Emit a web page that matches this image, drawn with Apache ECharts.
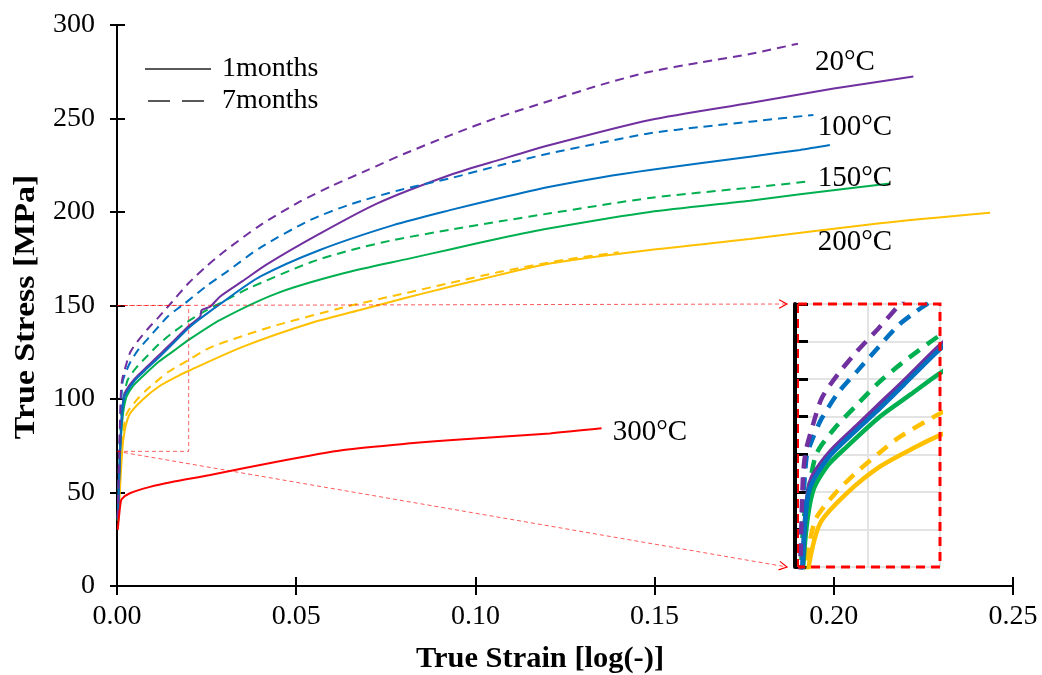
<!DOCTYPE html>
<html>
<head>
<meta charset="utf-8">
<script src="https://cdn.jsdelivr.net/npm/echarts@6/dist/echarts.min.js"></script>
<style>
html,body{margin:0;padding:0;background:#fff;}
#chart{width:1042px;height:675px;}
</style>
</head>
<body>
<div id="chart"></div>
<script>
// ---------- data (strain [-], true stress [MPa]) ----------
const xTicks = [0, 0.05, 0.10, 0.15, 0.20, 0.25];
const yTicks = [0, 50, 100, 150, 200, 250, 300];
const legendLabels = ['1months', '7months'];
const tempLabels = ['20°C', '100°C', '150°C', '200°C', '300°C'];
const tempLabelPos = [[0.2031, 280], [0.2059, 245], [0.2059, 218], [0.2059, 184], [0.1487, 82.4]];

const t20_1m = [[0.0003,38],[0.0008,68],[0.0013,90],[0.0018,100],[0.0025,104.5],[0.005,111],[0.0085,117.5],[0.0113,122.7],[0.015,129.5],[0.02,139],[0.0232,144],[0.0236,147.5],[0.026,149.4],[0.0287,154.7],[0.035,163],[0.0418,172],[0.0557,187.5],[0.0725,204.5],[0.0929,219.8],[0.1069,228],[0.1208,235.8],[0.1487,249.2],[0.1766,258.3],[0.2,266],[0.2222,272.4]];
const t20_7m = [[0.0002,36],[0.0005,62],[0.0008,85],[0.0011,104],[0.0015,111],[0.0025,118],[0.0037,125],[0.006,131.5],[0.0085,137.3],[0.0115,143.5],[0.0145,150],[0.02,162],[0.025,171],[0.03,179],[0.04,193],[0.051,205.5],[0.06,214],[0.07,222.5],[0.08,231],[0.0929,241],[0.1069,251],[0.1208,259.5],[0.135,268],[0.1487,275],[0.163,280],[0.1766,284.5],[0.19,290]];
const t100_1m = [[0.0003,38],[0.0008,70],[0.0013,90],[0.0018,99],[0.0025,103],[0.005,110],[0.0085,116.5],[0.0113,121.5],[0.015,128.5],[0.02,138],[0.0232,143],[0.03,152.5],[0.0399,165.4],[0.0566,179.7],[0.0771,193],[0.0929,201],[0.1069,207.5],[0.1208,213.5],[0.135,218.5],[0.1487,222.5],[0.1766,229.6],[0.1906,233.2],[0.1989,235.8]];
const t100_7m = [[0.0002,36],[0.0006,68],[0.001,92],[0.0016,109.4],[0.0025,114.5],[0.0037,119.6],[0.006,126.5],[0.0087,132.4],[0.0115,138.5],[0.0143,144.4],[0.0167,148],[0.0186,150.6],[0.025,160.5],[0.0306,168],[0.04,181],[0.0539,195.7],[0.065,204],[0.079,211.8],[0.0929,218],[0.1069,225],[0.1208,231.4],[0.135,237],[0.1487,242.1],[0.163,245.5],[0.1766,248.3],[0.1943,251.9]];
const t150_1m = [[0.0003,38],[0.0008,68],[0.0015,89],[0.00253,100.5],[0.0045,107],[0.00713,112],[0.0117,120],[0.016,126],[0.02,131.6],[0.0287,142.2],[0.0446,156.5],[0.0632,167.2],[0.0818,175.2],[0.0929,180],[0.1069,186],[0.1208,191.3],[0.1487,200],[0.1766,206],[0.1906,209.5],[0.2157,215.3]];
const t150_7m = [[0.0002,35],[0.0007,70],[0.00115,91.6],[0.002,102],[0.003,110.3],[0.0055,117],[0.0085,123.1],[0.0115,129],[0.0147,134.2],[0.02,141.7],[0.025,147.5],[0.03,152.5],[0.0371,159.5],[0.0539,173],[0.065,179.5],[0.0771,185],[0.0929,190.5],[0.1069,195],[0.1208,199.3],[0.1487,207.5],[0.1766,213],[0.1924,216.2]];
const t200_1m = [[0.0004,35],[0.001,58],[0.0018,79],[0.00345,91.6],[0.00713,99.6],[0.0117,106.7],[0.0167,112],[0.02,115.1],[0.0352,128],[0.0539,140.5],[0.0678,147.6],[0.0804,154],[0.0929,160],[0.1069,166.5],[0.1208,172.5],[0.1487,179.7],[0.1766,185.5],[0.2129,194],[0.2436,199.6]];
const t200_7m = [[0.0003,35],[0.001,66],[0.0016,81],[0.0028,92.5],[0.0055,99.5],[0.0083,104.9],[0.0117,110.5],[0.0145,114.7],[0.02,120.9],[0.026,127.5],[0.0371,135],[0.0446,139.5],[0.0632,149],[0.0779,155.5],[0.0929,162],[0.1069,168],[0.125,174.5],[0.14,178.5]];
const t300_1m = [[0.0002,30],[0.0005,36],[0.0009,43],[0.0013,46.5],[0.0036,49.6],[0.0092,53],[0.015,55.5],[0.026,59.4],[0.0446,66.5],[0.0632,72.7],[0.0818,76.3],[0.0957,78.4],[0.1208,81.6],[0.1352,84.3]];

// zoom window shown in the inset
const zoomX = [0, 0.02];
const zoomY = [80, 150];
const zoomBoxY = [72, 150];

const PURPLE = '#7030A0', BLUE = '#0070C0', GREEN = '#00B050', YELLOW = '#FFC000', RED = '#FF0000';
const FONT = '"Liberation Serif","Times New Roman",serif';

const curves = [
  {d: t200_7m, c: YELLOW, dash: true},
  {d: t200_1m, c: YELLOW, dash: false},
  {d: t150_7m, c: GREEN, dash: true},
  {d: t150_1m, c: GREEN, dash: false},
  {d: t20_1m, c: PURPLE, dash: false},
  {d: t100_1m, c: BLUE, dash: false},
  {d: t100_7m, c: BLUE, dash: true},
  {d: t20_7m, c: PURPLE, dash: true},
  {d: t300_1m, c: RED, dash: false, noInset: true}
];

const series = [];
curves.forEach(cv => {
  series.push({type: 'line', data: cv.d, xAxisIndex: 0, yAxisIndex: 0, symbol: 'none', silent: true,
    smooth: 0.25,
    lineStyle: {color: cv.c, width: 2, type: cv.dash ? [9, 6] : 'solid'}, z: 3});
});
curves.forEach(cv => {
  if (cv.noInset) return;
  series.push({type: 'line', data: cv.d, xAxisIndex: 3, yAxisIndex: 3, symbol: 'none', silent: true, clip: true,
    smooth: 0.25,
    lineStyle: {color: cv.c, width: 4.5, type: cv.dash ? [13, 9] : 'solid'}, z: 5});
});
// zoom rectangle on the main chart
series.push({type: 'line', xAxisIndex: 0, yAxisIndex: 0, symbol: 'none', silent: true, z: 4,
  data: [[zoomX[0], zoomBoxY[0]], [zoomX[1], zoomBoxY[0]], [zoomX[1], zoomBoxY[1]], [zoomX[0], zoomBoxY[1]]],
  lineStyle: {color: 'rgba(255,0,0,0.6)', width: 1, type: [4, 3]}});

const axisLbl = {fontFamily: FONT, fontSize: 28, color: '#000'};
const blackLine = {show: true, lineStyle: {color: '#000', width: 2}};

const option = {
  animation: false,
  backgroundColor: '#fff',
  grid: [
    {left: 117, right: 29, top: 25, bottom: 89},
    {left: 795, top: 304, width: 145, height: 263}
  ],
  xAxis: [
    {type: 'value', gridIndex: 0, min: xTicks[0], max: xTicks[xTicks.length - 1], interval: 0.05, position: 'bottom',
     axisLine: blackLine, axisTick: {show: true, length: 5, lineStyle: {color: '#000', width: 2}},
     axisLabel: Object.assign({margin: 17, formatter: v => v.toFixed(2)}, axisLbl), splitLine: {show: false}},
    {type: 'value', gridIndex: 0, min: xTicks[0], max: xTicks[xTicks.length - 1], interval: 0.05, position: 'bottom',
     axisLine: blackLine, axisTick: {show: true, inside: true, length: 9, lineStyle: {color: '#000', width: 2}},
     axisLabel: {show: false}, splitLine: {show: false}},
    {type: 'value', gridIndex: 0, min: xTicks[0], max: xTicks[xTicks.length - 1], interval: 0.05, position: 'top',
     axisLine: blackLine, axisTick: {show: true, inside: true, length: 9, lineStyle: {color: '#000', width: 2}},
     axisLabel: {show: false}, splitLine: {show: false}},
    {type: 'value', gridIndex: 1, min: zoomX[0], max: zoomX[1], interval: 0.01,
     axisLine: {show: false}, axisTick: {show: false}, axisLabel: {show: false},
     splitLine: {show: true, lineStyle: {color: '#E3E3E3', width: 2}}}
  ],
  yAxis: [
    {type: 'value', gridIndex: 0, min: yTicks[0], max: yTicks[yTicks.length - 1], interval: 50, position: 'left',
     axisLine: blackLine, axisTick: {show: true, length: 7, lineStyle: {color: '#000', width: 2}},
     axisLabel: Object.assign({margin: 22}, axisLbl), splitLine: {show: false}},
    {type: 'value', gridIndex: 0, min: yTicks[0], max: yTicks[yTicks.length - 1], interval: 50, position: 'left',
     axisLine: blackLine, axisTick: {show: true, inside: true, length: 8, lineStyle: {color: '#000', width: 2}},
     axisLabel: {show: false}, splitLine: {show: false}},
    {type: 'value', gridIndex: 0, min: yTicks[0], max: yTicks[yTicks.length - 1], interval: 50, position: 'right',
     axisLine: blackLine, axisTick: {show: true, inside: true, length: 6, lineStyle: {color: '#000', width: 2}},
     axisLabel: {show: false}, splitLine: {show: false}},
    {type: 'value', gridIndex: 1, min: zoomY[0], max: zoomY[1], interval: 10, position: 'left',
     axisLine: {show: true, lineStyle: {color: '#000', width: 4}},
     axisTick: {show: true, inside: true, length: 13, lineStyle: {color: '#000', width: 3}},
     axisLabel: {show: false}, splitLine: {show: true, lineStyle: {color: '#E3E3E3', width: 2}}}
  ],
  series: series
};

const chart = echarts.init(document.getElementById('chart'), null, {renderer: 'canvas'});
chart.setOption(option);

// ---------- annotations ----------
const P = (v) => chart.convertToPixel({xAxisIndex: 0, yAxisIndex: 0}, v);
const Q = (v) => chart.convertToPixel({xAxisIndex: 3, yAxisIndex: 3}, v);

const g = [];
const txt = (x, y, text, opts) => Object.assign({type: 'text', x: x, y: y, z: 20, silent: true,
  style: Object.assign({text: text, fill: '#000', font: '28px ' + FONT, textAlign: 'center', textVerticalAlign: 'middle',
    align: 'center', verticalAlign: 'middle'}, opts || {})});

// temperature labels
tempLabels.forEach((t, i) => { const p = P(tempLabelPos[i]); g.push(txt(p[0], p[1], t, {font: '29px ' + FONT})); });

// legend
g.push({type: 'line', z: 20, silent: true, shape: {x1: 145, y1: 69, x2: 211, y2: 69}, style: {stroke: '#222', lineWidth: 1.5}});
g.push({type: 'line', z: 20, silent: true, shape: {x1: 148, y1: 101, x2: 211, y2: 101}, style: {stroke: '#222', lineWidth: 1.5, lineDash: [22, 12]}});
g.push(txt(222, 69, legendLabels[0], {textAlign: 'left', align: 'left'}));
g.push(txt(222, 101, legendLabels[1], {textAlign: 'left', align: 'left'}));

// axis titles
g.push(Object.assign(txt(540, 660, 'True Strain [log(-)]', {font: 'bold 29px ' + FONT}), {scaleX: 1.05}));
g.push(Object.assign(txt(27, 307, 'True Stress [MPa]', {font: 'bold 29px ' + FONT}), {rotation: Math.PI / 2, scaleX: 1.17}));

// inset border
const iTL = Q([zoomX[0], zoomY[1]]), iBR = Q([zoomX[1], zoomY[0]]);
g.push({type: 'polyline', z: 15, silent: true,
  shape: {points: [[iTL[0] + 3, iTL[1]], [iBR[0], iTL[1]], [iBR[0], iBR[1]], [iTL[0] + 3, iBR[1]]]},
  style: {stroke: '#FF0000', lineWidth: 3, lineDash: [9, 6], fill: null}});
g.push({type: 'line', z: 15, silent: true, shape: {x1: iTL[0] + 3, y1: iTL[1], x2: iTL[0] + 3, y2: iBR[1]},
  style: {stroke: '#FF0000', lineWidth: 2, lineDash: [9, 6]}});

// connector lines with open arrowheads
function connector(from, to) {
  const ang = Math.atan2(to[1] - from[1], to[0] - from[0]);
  g.push({type: 'line', z: 14, silent: true, shape: {x1: from[0], y1: from[1], x2: to[0], y2: to[1]},
    style: {stroke: 'rgba(255,0,0,0.65)', lineWidth: 1, lineDash: [4, 3]}});
  const L = 9, a = 0.5;
  g.push({type: 'polyline', z: 14, silent: true,
    shape: {points: [[to[0] - L * Math.cos(ang - a), to[1] - L * Math.sin(ang - a)], [to[0], to[1]],
                     [to[0] - L * Math.cos(ang + a), to[1] - L * Math.sin(ang + a)]]},
    style: {stroke: '#FF0000', lineWidth: 1.2, fill: null}});
}
const bTL = P([zoomX[0], zoomBoxY[1]]), bBL = P([zoomX[0], zoomBoxY[0]]);
connector([bTL[0], bTL[1]], [iTL[0] - 8, iTL[1]]);
connector([bBL[0], bBL[1]], [iTL[0] - 8, iBR[1]]);

chart.setOption({graphic: g});
</script>
</body>
</html>
